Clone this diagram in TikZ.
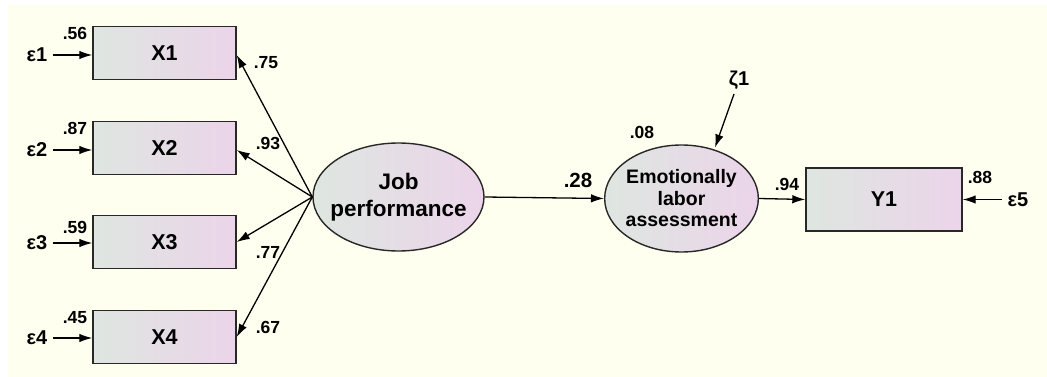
\documentclass[tikz,border=0pt]{standalone}
\usepackage{fontspec}
\setmainfont{Liberation Sans}
\usetikzlibrary{arrows.meta,shapes.geometric}
\definecolor{bgc}{RGB}{255,255,240}
\definecolor{gl}{RGB}{222,230,224}
\definecolor{gr}{RGB}{236,212,234}
\definecolor{edge}{RGB}{40,40,40}
\tikzset{
  obs/.style={draw=edge,line width=1.4pt,left color=gl,right color=gr,minimum width=143pt,minimum height=53pt,inner sep=0pt,font=\fontsize{21.5}{24}\selectfont\bfseries},
  lat/.style={ellipse,draw=edge,line width=1.4pt,left color=gl,right color=gr,inner ysep=0pt,align=center},
  lbl/.style={inner sep=0pt,font=\fontsize{17.5}{19}\selectfont\bfseries},
  err/.style={inner sep=0pt,font=\fontsize{20}{22}\selectfont\bfseries},
  arr/.style={line width=1.3pt,-{Latex[length=13pt,width=8.5pt]}}
}
\begin{document}
\begin{tikzpicture}[x=1pt,y=-1pt]
\fill[white] (0,0) rectangle (1047,377);
\fill[bgc] (8,5) rectangle (1047,377);
\useasboundingbox (0,0) rectangle (1047,377);
% observed
\node[obs] (x1) at (164.5,53) {X1};
\node[obs] (x2) at (164.5,148) {X2};
\node[obs] (x3) at (164.5,242) {X3};
\node[obs] (x4) at (164.5,337) {X4};
\node[obs,minimum width=156pt,minimum height=63pt] (y1) at (884,199.5) {Y1};
% latent
\node[lat,inner xsep=-9pt,minimum width=171pt,minimum height=108pt,font=\fontsize{22.5}{26.5}\selectfont\bfseries] (jp) at (398.5,197) {Job\\performance};
\node[lat,inner xsep=-1.5pt,minimum width=153pt,minimum height=107pt,font=\fontsize{19.5}{21.5}\selectfont\bfseries] (el) at (681.5,198.5) {Emotionally\\labor\\assessment};
% errors
\node[err] (e1) at (37,55) {ε1};
\node[err] (e2) at (37,150) {ε2};
\node[err] (e3) at (37,243) {ε3};
\node[err] (e4) at (37,338) {ε4};
\node[err] (e5) at (1018,199.5) {ε5};
\node[err] (z1) at (739,80) {ζ1};
\coordinate (z1s) at (734,94);
% error arrows
\draw[arr] (e1.east) ++(5,0) coordinate (a1) -- (a1 -| x1.west);
\draw[arr] (e2.east) ++(5,0) coordinate (a2) -- (a2 -| x2.west);
\draw[arr] (e3.east) ++(5,0) coordinate (a3) -- (a3 -| x3.west);
\draw[arr] (e4.east) ++(5,0) coordinate (a4) -- (a4 -| x4.west);
\draw[arr] (e5.west) ++(-6,0) coordinate (a5) -- (a5 -| y1.east);
\draw[arr] (z1s) -- (715,147.5);
% loadings
\draw[arr] (jp.west) -- ([yshift=-2pt]x1.east);
\draw[arr] (jp.west) -- ([yshift=-2pt]x2.east);
\draw[arr] (jp.west) -- (x3.east);
\draw[arr] (jp.west) -- (x4.east);
\draw[arr] (jp.east) -- (el.west);
\draw[arr] (el.east) -- (y1.west);
% labels
\node[lbl] at (75,33) {.56};
\node[lbl] at (75,128) {.87};
\node[lbl] at (75,227) {.59};
\node[lbl] at (75,318) {.45};
\node[lbl] at (266,63) {.75};
\node[lbl] at (268,143) {.93};
\node[lbl] at (268,252) {.77};
\node[lbl] at (268,327) {.67};
\node[lbl,font=\fontsize{20.5}{22}\selectfont\bfseries] at (578,180) {.28};
\node[lbl] at (642,132) {.08};
\node[lbl] at (787,184) {.94};
\node[lbl] at (980,177) {.88};
\end{tikzpicture}
\end{document}
